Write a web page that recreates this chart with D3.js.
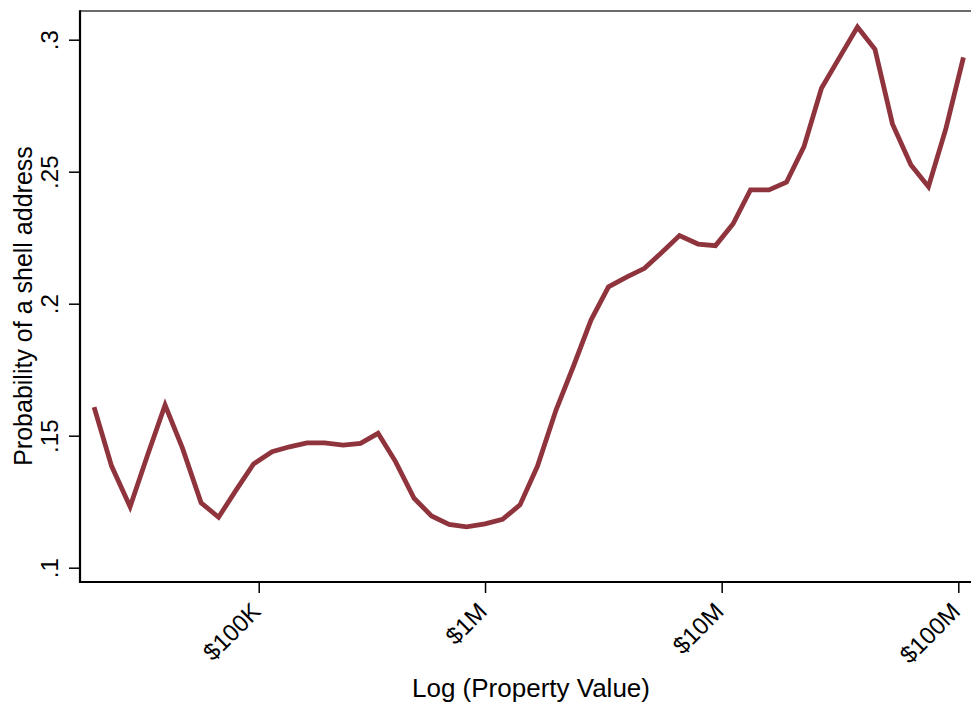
<!DOCTYPE html>
<html>
<head>
<meta charset="utf-8">
<script src="https://cdn.jsdelivr.net/npm/d3@7"></script>
<style>
  html, body { margin: 0; padding: 0; background: #ffffff; }
  svg { display: block; font-family: Arial, "Liberation Sans", Helvetica, sans-serif; }
</style>
</head>
<body>
<svg id="chart" width="971" height="704"></svg>
<script>
// Log (natural) of property value, bin centres
const logValue = [
  10.00, 10.17, 10.35, 10.52, 10.69, 10.86, 11.04, 11.21, 11.38, 11.55,
  11.73, 11.90, 12.07, 12.24, 12.42, 12.59, 12.76, 12.93, 13.11, 13.28,
  13.45, 13.62, 13.80, 13.97, 14.14, 14.31, 14.49, 14.66, 14.83, 15.00,
  15.18, 15.35, 15.52, 15.69, 15.87, 16.04, 16.21, 16.38, 16.56, 16.73,
  16.90, 17.07, 17.25, 17.42, 17.59, 17.76, 17.94, 18.11, 18.28, 18.45
];

// Probability that the owner uses a shell address
const shellProb = [
  0.1608, 0.1385, 0.1231, 0.1427, 0.1616, 0.1452, 0.1246, 0.1191, 0.1294, 0.1393,
  0.1439, 0.1458, 0.1473, 0.1473, 0.1464, 0.1471, 0.1509, 0.1402, 0.1263, 0.1196,
  0.1164, 0.1155, 0.1166, 0.1183, 0.1238, 0.1385, 0.1597, 0.1764, 0.1938, 0.2064,
  0.2102, 0.2134, 0.2195, 0.2258, 0.2226, 0.2220, 0.2302, 0.2431, 0.2431, 0.2460,
  0.2595, 0.2816, 0.2936, 0.3048, 0.2964, 0.2681, 0.2525, 0.2443, 0.2664, 0.2933
];

// Axis ticks
const xTickValues = [11.6, 13.8, 16.1, 18.4];
const xTickLabels = ["$100K", "$1M", "$10M", "$100M"];
const yTickValues = [0.1, 0.15, 0.2, 0.25, 0.3];
const yTickLabels = [".1", ".15", ".2", ".25", ".3"];

const svg = d3.select("#chart");

// plot region edges
const plotLeft = 80, plotRight = 971, plotTop = 11, plotBottom = 582;

const x = d3.scaleLinear().domain([11.6, 18.4]).range([258.7, 958.3]);
const y = d3.scaleLinear().domain([0.1, 0.3]).range([567.7, 39.7]);

const lineColor = "#8f343d";

// top outline of the plot region
svg.append("line")
  .attr("x1", plotLeft).attr("x2", plotRight)
  .attr("y1", plotTop).attr("y2", plotTop)
  .attr("stroke", "#3a3a3a").attr("stroke-width", 1.5);

// y axis
const yAxis = d3.axisLeft(y)
  .tickValues(yTickValues)
  .tickSize(11)
  .tickFormat((d, i) => yTickLabels[i]);

const gy = svg.append("g")
  .attr("transform", `translate(${plotLeft},0)`)
  .call(yAxis);
gy.select(".domain").remove();
gy.selectAll(".tick line").attr("stroke", "#000").attr("stroke-width", 1.5);
gy.selectAll(".tick text")
  .attr("fill", "#000")
  .attr("font-size", 24)
  .attr("text-anchor", "middle")
  .attr("x", null).attr("dy", null)
  .attr("transform", "translate(-22,0) rotate(-90)");

svg.append("line")
  .attr("x1", plotLeft).attr("x2", plotLeft)
  .attr("y1", plotTop - 0.75).attr("y2", plotBottom + 1)
  .attr("stroke", "#000").attr("stroke-width", 2.2);

// x axis
const xAxis = d3.axisBottom(x)
  .tickValues(xTickValues)
  .tickSize(11)
  .tickFormat((d, i) => xTickLabels[i]);

const gx = svg.append("g")
  .attr("transform", `translate(0,${plotBottom})`)
  .call(xAxis);
gx.select(".domain").remove();
gx.selectAll(".tick line").attr("stroke", "#000").attr("stroke-width", 1.5);
gx.selectAll(".tick text")
  .attr("fill", "#000")
  .attr("font-size", 24)
  .attr("text-anchor", "end")
  .attr("y", null).attr("dy", "0.35em")
  .attr("transform", "translate(-3,25) rotate(-45)");

svg.append("line")
  .attr("x1", plotLeft - 1).attr("x2", plotRight)
  .attr("y1", plotBottom).attr("y2", plotBottom)
  .attr("stroke", "#000").attr("stroke-width", 2.2);

// data line
const line = d3.line()
  .x((d, i) => x(logValue[i]))
  .y(d => y(d));

svg.append("path")
  .datum(shellProb)
  .attr("fill", "none")
  .attr("stroke", lineColor)
  .attr("stroke-width", 4.8)
  .attr("stroke-linejoin", "miter")
  .attr("d", line);

// axis titles
svg.append("text")
  .attr("x", 531).attr("y", 697)
  .attr("text-anchor", "middle")
  .attr("font-size", 26)
  .attr("fill", "#000")
  .text("Log (Property Value)");

svg.append("text")
  .attr("transform", "translate(32,306) rotate(-90)")
  .attr("text-anchor", "middle")
  .attr("font-size", 25)
  .attr("fill", "#000")
  .text("Probability of a shell address");
</script>
</body>
</html>
